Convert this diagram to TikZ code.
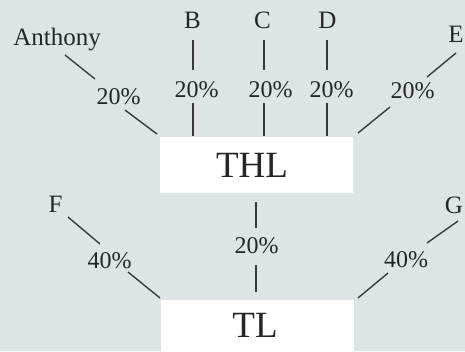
\documentclass[tikz,border=0pt]{standalone}
\usepackage{fontspec}
\setmainfont{Liberation Serif}
\definecolor{bg}{RGB}{220,228,230}
\definecolor{linec}{RGB}{58,58,58}
\definecolor{txt}{RGB}{38,38,38}
\begin{document}
\begin{tikzpicture}[x=1pt,y=-1pt,
  ln/.style={draw=linec, line width=1.4pt},
  nm/.style={font=\fontsize{25}{25}\selectfont, text=txt, inner sep=0pt, anchor=base},
  pc/.style={font=\fontsize{24}{24}\selectfont, text=txt, inner sep=0pt, anchor=base},
  big/.style={font=\fontsize{37}{37}\selectfont, text=txt, inner sep=0pt, anchor=base},
  box/.style={fill=white, draw=none, inner sep=0pt}]
\useasboundingbox (0,0) rectangle (465,351);
\clip (0,0) rectangle (465,351);
\fill[bg] (0,0) rectangle (465,351);

% boxes
\node[box, minimum width=193pt, minimum height=56pt] (thl) at (256.5,165) {};
\node[box, minimum width=193pt, minimum height=60pt] (tl) at (257.5,330) {};
\node[big] (thlt) at (252,177) {THL};
\node[big] (tlt) at (255,337) {TL};

% names
\node[nm] (anthony) at (57,45) {Anthony};
\node[nm] (b) at (192.5,28) {B};
\node[nm] (c) at (262.5,28) {C};
\node[nm] (d) at (327.5,28) {D};
\node[nm] (e) at (456,42) {E};
\node[nm] (f) at (55.5,212) {F};
\node[nm] (g) at (454,213) {G};

% percentages
\node[pc] (pa) at (118.5,104) {20\%};
\node[pc] (pb) at (196.5,97) {20\%};
\node[pc] (pcc) at (270.5,97) {20\%};
\node[pc] (pd) at (331.5,97) {20\%};
\node[pc] (pe) at (412.5,98) {20\%};
\node[pc] (pf) at (109.5,268) {40\%};
\node[pc] (pm) at (256.5,253) {20\%};
\node[pc] (pg) at (406,267) {40\%};

% connector end points
\coordinate (a1) at (65,55);   \coordinate (a2) at (95,79);
\coordinate (a3) at (125,110); \coordinate (a4) at (157,134);
\coordinate (b1) at (193,40);  \coordinate (b2) at (193,70);
\coordinate (b3) at (193,103); \coordinate (b4) at (193,136);
\coordinate (c1) at (264,40);  \coordinate (c2) at (264,70);
\coordinate (c3) at (264,103); \coordinate (c4) at (264,136);
\coordinate (d1) at (327,40);  \coordinate (d2) at (327,70);
\coordinate (d3) at (327,103); \coordinate (d4) at (327,136);
\coordinate (e1) at (456,53);  \coordinate (e2) at (427,77);
\coordinate (e3) at (390,107); \coordinate (e4) at (358,133);
\coordinate (m1) at (256,202); \coordinate (m2) at (256,228);
\coordinate (m3) at (256,265); \coordinate (m4) at (256,292);
\coordinate (f1) at (68,217);  \coordinate (f2) at (100,244);
\coordinate (f3) at (128,272); \coordinate (f4) at (160,298);
\coordinate (g1) at (458,221); \coordinate (g2) at (427,243);
\coordinate (g3) at (388,273); \coordinate (g4) at (358,298);

\foreach \p in {a,b,c,d,e,m,f,g}{
  \draw[ln] (\p1) -- (\p2);
  \draw[ln] (\p3) -- (\p4);
}
\end{tikzpicture}
\end{document}
